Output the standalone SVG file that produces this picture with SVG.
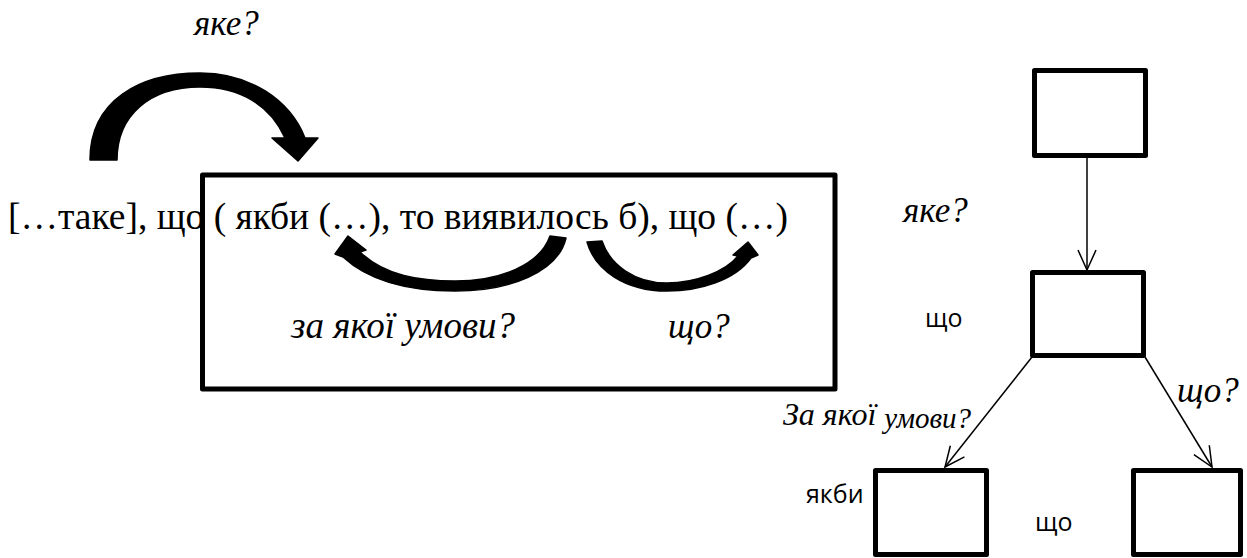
<svg xmlns="http://www.w3.org/2000/svg" width="1247" height="558" viewBox="0 0 1247 558">
<style>
.t{font-family:"Liberation Serif","Times New Roman",serif;fill:#000}
.i{font-family:"Liberation Serif","Times New Roman",serif;font-style:italic;fill:#000}
.s{font-family:"Open Sans","Noto Sans","Liberation Sans",sans-serif;font-size:25px;fill:#000}
.box{fill:none;stroke:#000;stroke-width:5;stroke-linejoin:round}
.ln{fill:none;stroke:#000;stroke-width:1.5}
.big{fill:#000;stroke:#000;stroke-width:1.5;stroke-linejoin:round}
</style>
<defs>
<marker id="v" markerUnits="userSpaceOnUse" markerWidth="30" markerHeight="30" viewBox="-25 -15 30 30" refX="0" refY="0" orient="auto">
<path d="M-20,-9 L0,0 L-20,9" fill="none" stroke="#000" stroke-width="1.5"/>
</marker>
</defs>
<rect width="1247" height="558" fill="#fff"/>
<g id="labels">
<text class="i" x="194" y="35" font-size="35">яке?</text>
<text class="t" x="8" y="229" font-size="37.5">[…таке], що ( якби (…), то виявилось б), що (…)</text>
<text class="i" x="291" y="338" font-size="37">за якої умови?</text>
<text class="i" x="668" y="338" font-size="35">що?</text>
<text class="i" x="903" y="222" font-size="35">яке?</text>
<text class="s" x="925" y="327">що</text>
<text class="i" x="783" y="425" font-size="32">За якої <tspan font-size="29" dy="3">умови?</tspan></text>
<text class="i" x="1177" y="402" font-size="35">що?</text>
<text class="s" x="806" y="503">якби</text>
<text class="s" x="1035" y="531">що</text>
</g>
<g id="frame">
<rect class="box" x="202.5" y="175" width="632.5" height="214"/>
</g>
<g id="node-top"><rect class="box" x="1034.5" y="70.5" width="111" height="85"/></g>
<g id="node-mid"><rect class="box" x="1032.5" y="272.5" width="111" height="83"/></g>
<g id="node-left"><rect class="box" x="875.5" y="470.5" width="111" height="84"/></g>
<g id="node-right"><rect class="box" x="1133.5" y="470.5" width="107" height="84"/></g>
<g id="connectors">
<path class="big" d="M90,160 C90,100 140,73 200,73 C250,73 290,100 305,138 L318,138 L298,161 L272,138 L285,138 C270,105 240,87 200,87 C150,87 117,115 117,160 Z"/>
<path class="big" d="M348,236 L366,250 L360,252 C385,276 420,281 455,281 C500,281 540,265 550,236 L566,238 C558,272 510,291 455,291 C410,291 370,282 343,257 L335,254 Z"/>
<path class="big" d="M587,242 L602,241 C610,265 635,283 667,283 C695,283 725,272 738,256 L733,255 L748,242 L758,255 L751,258 C735,280 700,291 667,291 C625,291 595,270 587,242 Z"/>
<line class="ln" x1="1087" y1="158" x2="1087" y2="270" marker-end="url(#v)"/>
<line class="ln" x1="1032" y1="357" x2="945" y2="467" marker-end="url(#v)"/>
<line class="ln" x1="1145" y1="357" x2="1212" y2="467" marker-end="url(#v)"/>
</g>
</svg>
